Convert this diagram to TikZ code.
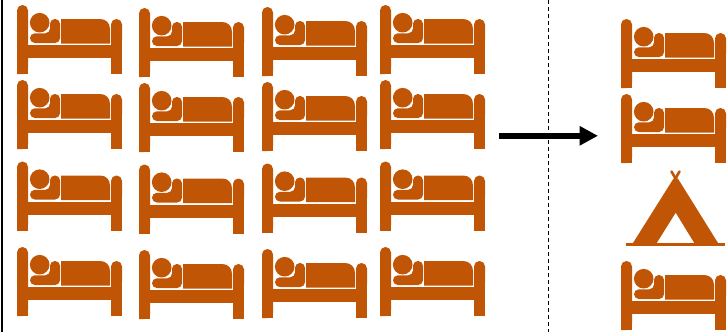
\documentclass[tikz,border=0pt]{standalone}
\usetikzlibrary{arrows.meta}
\definecolor{rust}{HTML}{C05506}
\tikzset{
  solidrust/.style={fill=rust,draw=none},
  bed/.pic={
    % frame: tall left post, shorter right post, crossbar
    \fill[solidrust,rounded corners=5.4] (0,69) -- (0,0) -- (11,0) -- (11,69) [sharp corners] -- cycle;
    \fill[solidrust] (0,69) rectangle (11,30);
    \fill[solidrust,rounded corners=5.4] (94,40) -- (94,14) -- (105,14) -- (105,40) [sharp corners] -- cycle;
    \fill[solidrust] (94,69) rectangle (105,30);
    \fill[solidrust] (0,40) rectangle (105,53);
    % sleeper
    \fill[solidrust] (22.7,17.7) circle (9.8);
    \fill[solidrust,rounded corners=4.8] (13,28.3) -- (33,28.3) -- (33,14) -- (43,14) -- (43,38) -- (13,38) -- cycle;
    % blanket
    \fill[solidrust] (44,14) -- (83,14) .. controls (89,14) and (93,18) .. (93,24) -- (93,38.5) -- (44,38.5) -- cycle;
  },
  tent/.pic={
    \fill[solidrust,even odd rule]
      (633,243) -- (672.6,180) -- (675.7,176.5) -- (678.8,180) -- (718,243) -- cycle
      (656.7,243) -- (694.3,243) -- (675.7,212.7) -- cycle;
    \fill[solidrust] (626,243) rectangle (725,246);
    \draw[rust,line width=2.6,line cap=round] (671.5,171.5) -- (677,181);
    \draw[rust,line width=2.6,line cap=round] (679.5,171.5) -- (674,181);
  }
}
\begin{document}
\begin{tikzpicture}[x=1pt,y=-1pt]
\useasboundingbox (0,0) rectangle (728,332);
\clip (0,0) rectangle (728,332);
% left border and divider
\coordinate (borderTop) at (1.9,0);
\coordinate (borderBottom) at (1.9,332);
\draw[black,line width=2.2] (borderTop) -- (borderBottom);
\coordinate (dividerTop) at (548,0);
\coordinate (dividerBottom) at (548,332);
\draw[black,line width=0.8,dash pattern=on 4pt off 3pt] (dividerTop) -- (dividerBottom);
% beds, grid
\foreach \x/\yo in {17/0,139/3,262/2,380/0}{
  \foreach \y in {5,80,161.5,247}{
    \pic at (\x,\y+\yo) {bed};
  }
}
% right column
\foreach \y in {19,94,261}{
  \pic at (621,\y) {bed};
}
\pic at (0,0) {tent};
% arrow
\coordinate (arrowStart) at (499,135.8);
\coordinate (arrowEnd) at (598,135.8);
\draw[black,line width=6.2,-{Triangle[length=18.5pt,width=18.5pt]}] (arrowStart) -- (arrowEnd);
\end{tikzpicture}
\end{document}
